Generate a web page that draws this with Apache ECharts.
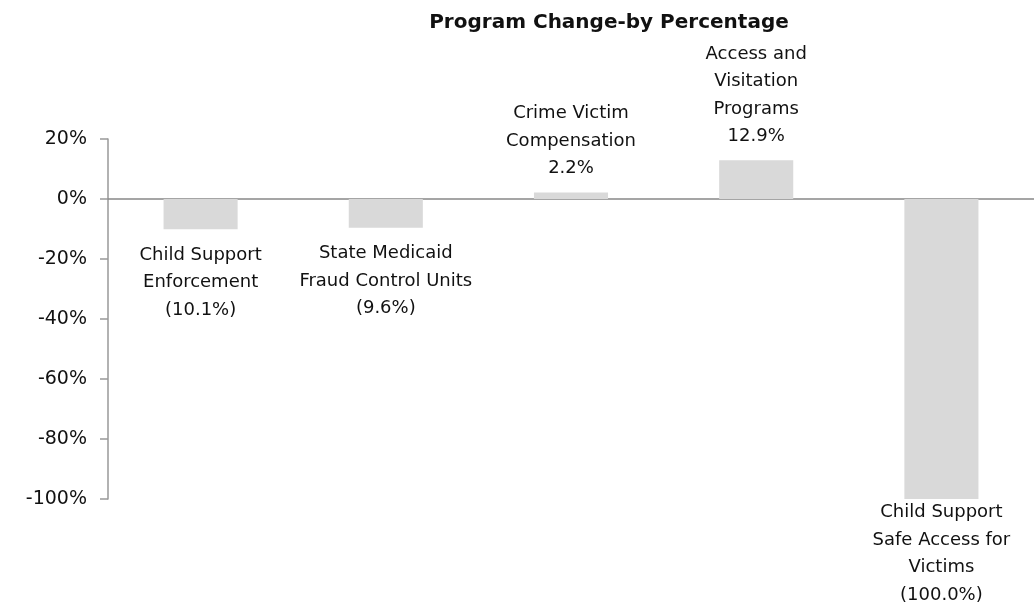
<!DOCTYPE html>
<html><head><meta charset="utf-8">
<script src="https://cdn.jsdelivr.net/npm/echarts@6/dist/echarts.min.js"></script>
<style>html,body{margin:0;padding:0;background:#fff}#c{width:1034px;height:609px}</style>
</head><body><div id="c"></div>
<script>
var categories = ["Child Support\nEnforcement", "State Medicaid\nFraud Control Units", "Crime Victim\nCompensation", "Access and\nVisitation\nPrograms", "Child Support\nSafe Access for\nVictims"];
var values = [-10.1, -9.6, 2.2, 12.9, -100.0];
var yTicks = [-100, -80, -60, -40, -20, 0, 20];
var title = "Program Change-by Percentage";

var FONT = "DejaVu Sans";
var labelGap = [12, 12, 10, 10, 0];
var chart = echarts.init(document.getElementById('c'));
chart.setOption({
  animation: false,
  title: {text: title, left: 604, textAlign: 'center', top: 8,
    textStyle: {fontFamily: FONT, fontWeight: 'bold', fontSize: 20, color: '#111'}},
  grid: {left: 108, right: 0, top: 139, bottom: 110, containLabel: false},
  xAxis: {type: 'category', data: categories,
    axisLine: {onZero: true, lineStyle: {color: '#888', width: 1.5}},
    axisTick: {show: false}, axisLabel: {show: false}},
  yAxis: {type: 'value', min: yTicks[0], max: yTicks[yTicks.length-1], interval: 20,
    splitLine: {show: false},
    axisLine: {show: true, lineStyle: {color: '#999', width: 1.5}},
    axisTick: {show: true, length: 8, lineStyle: {color: '#999', width: 1.5}},
    axisLabel: {fontFamily: FONT, fontSize: 19, color: '#111', margin: 21,
      formatter: function(v){return v + '%';}}},
  series: [{type: 'bar', barWidth: '40%',
    itemStyle: {color: '#d9d9d9'},
    data: values.map(function(v, i){
      return {value: v, label: {position: v >= 0 ? 'top' : 'bottom', distance: labelGap[i]}};
    }),
    label: {show: true, fontFamily: FONT, fontSize: 18, lineHeight: 27.5, color: '#111',
      formatter: function(p){
        var v = p.value;
        var s = v < 0 ? '(' + Math.abs(v).toFixed(1) + '%)' : v.toFixed(1) + '%';
        return categories[p.dataIndex] + '\n' + s;
      }}
  }]
});
</script></body></html>
